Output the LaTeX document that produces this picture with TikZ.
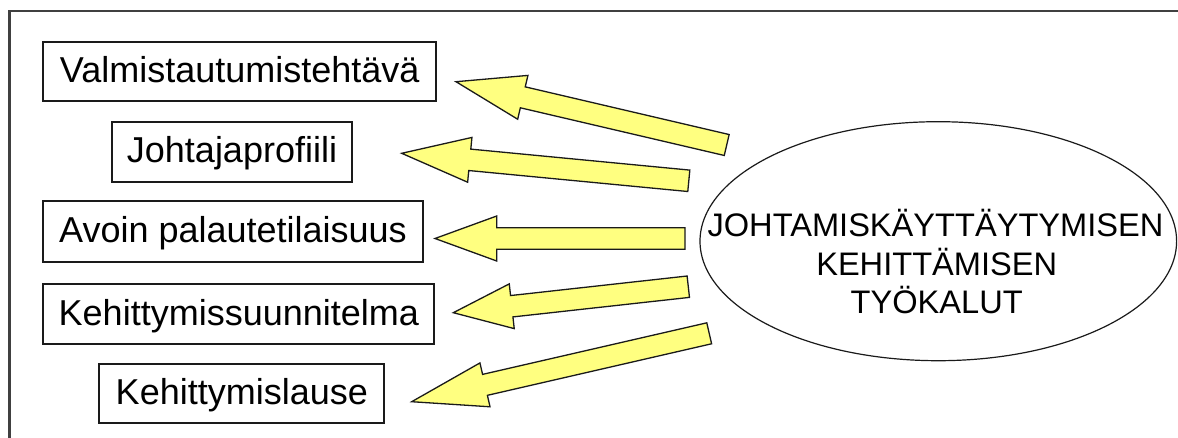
\documentclass[tikz,border=0pt]{standalone}
\usepackage{fontspec}
\setmainfont{Liberation Sans}
\usetikzlibrary{calc,shapes.geometric}
\definecolor{arrowfill}{HTML}{FFFF80}
\definecolor{framegray}{HTML}{404040}
\definecolor{inkline}{HTML}{1A1A1A}
\tikzset{
  toolbox/.style={draw=inkline, line width=1.8pt, inner sep=0pt,
    font=\fontsize{36}{43}\selectfont, text height=25.8pt, text depth=4pt},
  yarrow/.style={fill=arrowfill, draw=inkline, line width=1.3pt, line join=miter},
  frameline/.style={draw=framegray, line width=2.5pt},
  coretext/.style={font=\fontsize{32.6}{38}\selectfont, anchor=base, inner sep=0pt}
}
\newcommand{\blockarrow}[3]{%
  \coordinate (#2-h) at ($(#2)!#3!(#1)$);
  \filldraw[yarrow] (#2)
    -- ($(#2-h)!22.5pt!90:(#2)$)
    -- ($(#2-h)!10.75pt!90:(#2)$)
    -- ($(#1)!10.75pt!90:(#2-h)$)
    -- ($(#1)!10.75pt!-90:(#2-h)$)
    -- ($(#2-h)!10.75pt!-90:(#2)$)
    -- ($(#2-h)!22.5pt!-90:(#2)$)
    -- cycle;}
\begin{document}
\begin{tikzpicture}[x=1pt,y=-1pt]
\useasboundingbox[fill=white] (0,0) rectangle (1178,437);
% outer frame (continues past the right and bottom edges)
\draw[frameline] (9.5,445) -- (9.5,11) -- (1190,11);
% boxes
\node[toolbox, minimum width=392.7pt, minimum height=59.3pt] (b1) at (239.7,71.3) {Valmistautumistehtävä};
\node[toolbox, minimum width=240.6pt, minimum height=60pt] (b2) at (232,151.7) {Johtajaprofiili};
\node[toolbox, minimum width=379.4pt, minimum height=61pt] (b3) at (233,231.5) {Avoin palautetilaisuus};
\node[toolbox, minimum width=391pt, minimum height=60pt] (b4) at (238.8,314.3) {Kehittymissuunnitelma};
\node[toolbox, minimum width=285pt, minimum height=58.7pt] (b5) at (241.8,393.7) {Kehittymislause};
% central ellipse
\node[draw=inkline, ellipse, line width=1.2pt, inner sep=0pt,
      minimum width=476.6pt, minimum height=239pt] (core) at (938.3,241.2) {};
\node[coretext] (l1) at (935.5,236.7) {JOHTAMISKÄYTTÄYTYMISEN};
\node[coretext] (l2) at (936.7,275) {KEHITTÄMISEN};
\node[coretext] (l3) at (936.7,313.3) {TYÖKALUT};
% arrow end points
\coordinate (s1) at (726.7,145);   \coordinate (t1) at (456,81.7);
\coordinate (s2) at (688.8,180.8); \coordinate (t2) at (401.7,153.3);
\coordinate (s3) at (685,238.5);   \coordinate (t3) at (435,238.5);
\coordinate (s4) at (688.3,286.7); \coordinate (t4) at (453.3,312.7);
\coordinate (s5) at (709.2,333.3); \coordinate (t5) at (411.7,401.7);
\blockarrow{s1}{t1}{68.6pt}
\blockarrow{s2}{t2}{68.4pt}
\blockarrow{s3}{t3}{61.7pt}
\blockarrow{s4}{t4}{58.8pt}
\blockarrow{s5}{t5}{75.2pt}
\end{tikzpicture}
\end{document}
